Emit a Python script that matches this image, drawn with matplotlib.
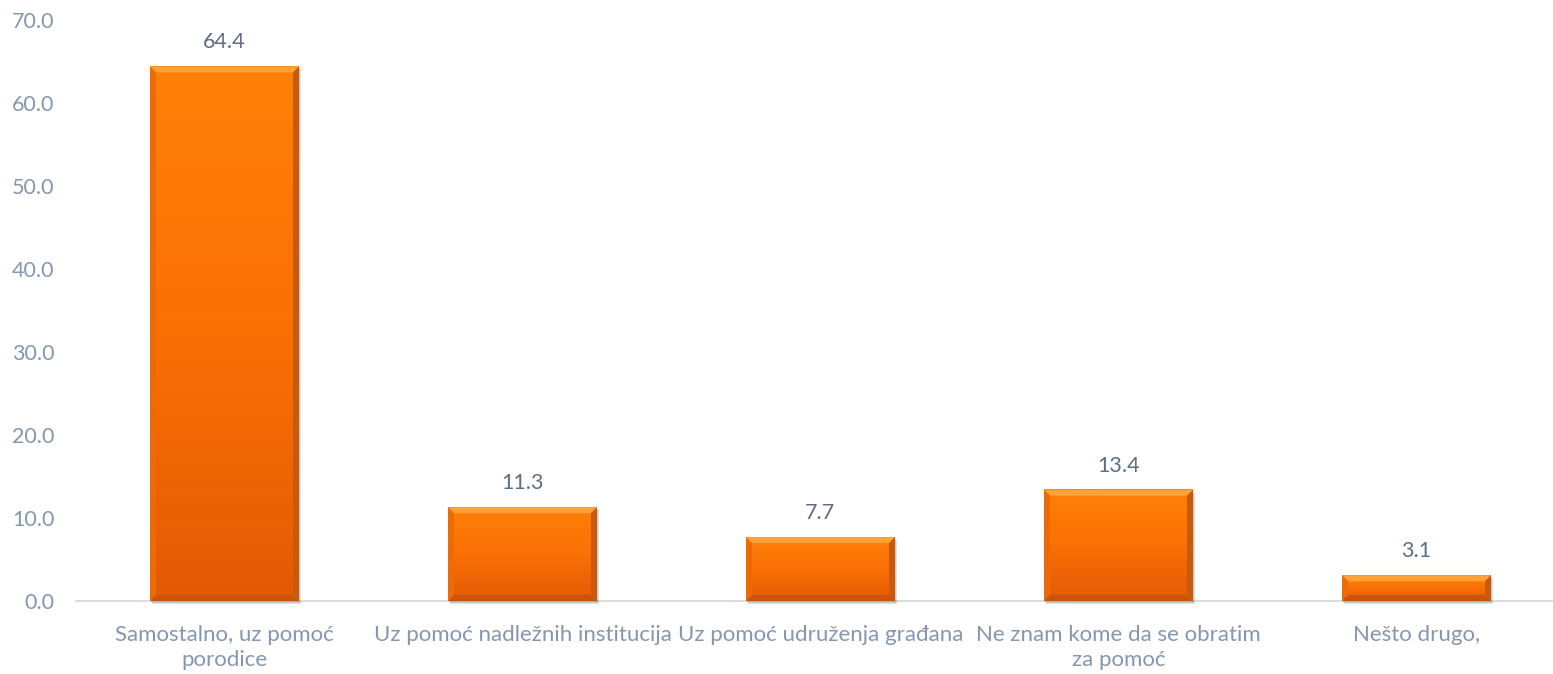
import numpy as np
import matplotlib.pyplot as plt
from matplotlib.patches import Polygon, Rectangle
from matplotlib.colors import LinearSegmentedColormap

categories = ['Samostalno, uz pomoć\nporodice', 'Uz pomoć nadležnih institucija',
              'Uz pomoć udruženja građana', 'Ne znam kome da se obratim\nza pomoć',
              'Nešto drugo,']
values = [64.4, 11.3, 7.7, 13.4, 3.1]
yticks = [0, 10, 20, 30, 40, 50, 60, 70]

plt.rcParams['font.family'] = ['Lato', 'DejaVu Sans']

W, H = 1553, 674
fig = plt.figure(figsize=(W / 100, H / 100), dpi=100)
ax = fig.add_axes([75.5 / W, (H - 601) / H, 1490 / W, 581 / H])
ax.set_xlim(-0.5, len(values) - 0.5)
ax.set_ylim(0, 70)

bw = 0.5
# pixel -> data scale
px_x = len(values) / 1490
px_y = 70 / 581
bev = 6  # bevel size in px

grad = LinearSegmentedColormap.from_list('g', ['#e35a06', '#fa7005', '#ff8008'])
for i, v in enumerate(values):
    x0, x1 = i - bw / 2, i + bw / 2
    # soft shadow
    ax.add_patch(Rectangle((x0 + 2 * px_x, -3 * px_y), bw, v, color='#000000',
                           alpha=0.12, lw=0, zorder=1, clip_on=False))
    ax.add_patch(Rectangle((x0 + 1 * px_x, -1.5 * px_y), bw, v, color='#000000',
                           alpha=0.10, lw=0, zorder=1, clip_on=False))
    # main fill
    img = np.linspace(0, 1, 100).reshape(-1, 1)
    ax.imshow(img, cmap=grad, extent=(x0, x1, 0, v), origin='lower',
              aspect='auto', zorder=2, interpolation='bilinear')
    bx, by = bev * px_x, bev * px_y
    by = min(by, v / 2)
    # top bevel
    ax.add_patch(Polygon([(x0, v), (x1, v), (x1 - bx, v - by), (x0 + bx, v - by)],
                         closed=True, color='#ffa23a', lw=0, zorder=3))
    # bottom bevel
    ax.add_patch(Polygon([(x0, 0), (x1, 0), (x1 - bx, by), (x0 + bx, by)],
                         closed=True, color='#c9550c', lw=0, zorder=3))
    # left bevel
    ax.add_patch(Polygon([(x0, 0), (x0, v), (x0 + bx, v - by), (x0 + bx, by)],
                         closed=True, color='#ee6a06', lw=0, zorder=3))
    # right bevel
    ax.add_patch(Polygon([(x1, 0), (x1, v), (x1 - bx, v - by), (x1 - bx, by)],
                         closed=True, color='#c85a0c', lw=0, zorder=3))
    ax.text(i, v + 1.7, f'{v:.1f}', ha='center', va='bottom', fontsize=15.5,
            color='#5d6d84')

ax.set_xticks(range(len(values)))
ax.set_xticklabels(categories, fontsize=16, color='#8497b0', linespacing=1.35)
ax.set_yticks(yticks)
ax.set_yticklabels([f'{t:.1f}' for t in yticks], fontsize=15.5, color='#8497b0')
ax.tick_params(axis='both', length=0)
ax.tick_params(axis='x', pad=17)
ax.tick_params(axis='y', pad=15)
for s in ['top', 'right', 'left']:
    ax.spines[s].set_visible(False)
ax.spines['bottom'].set_color('#d9d9d9')
ax.spines['bottom'].set_linewidth(1.3)
ax.spines['bottom'].set_zorder(0)

fig.savefig('out.png', dpi=100)
